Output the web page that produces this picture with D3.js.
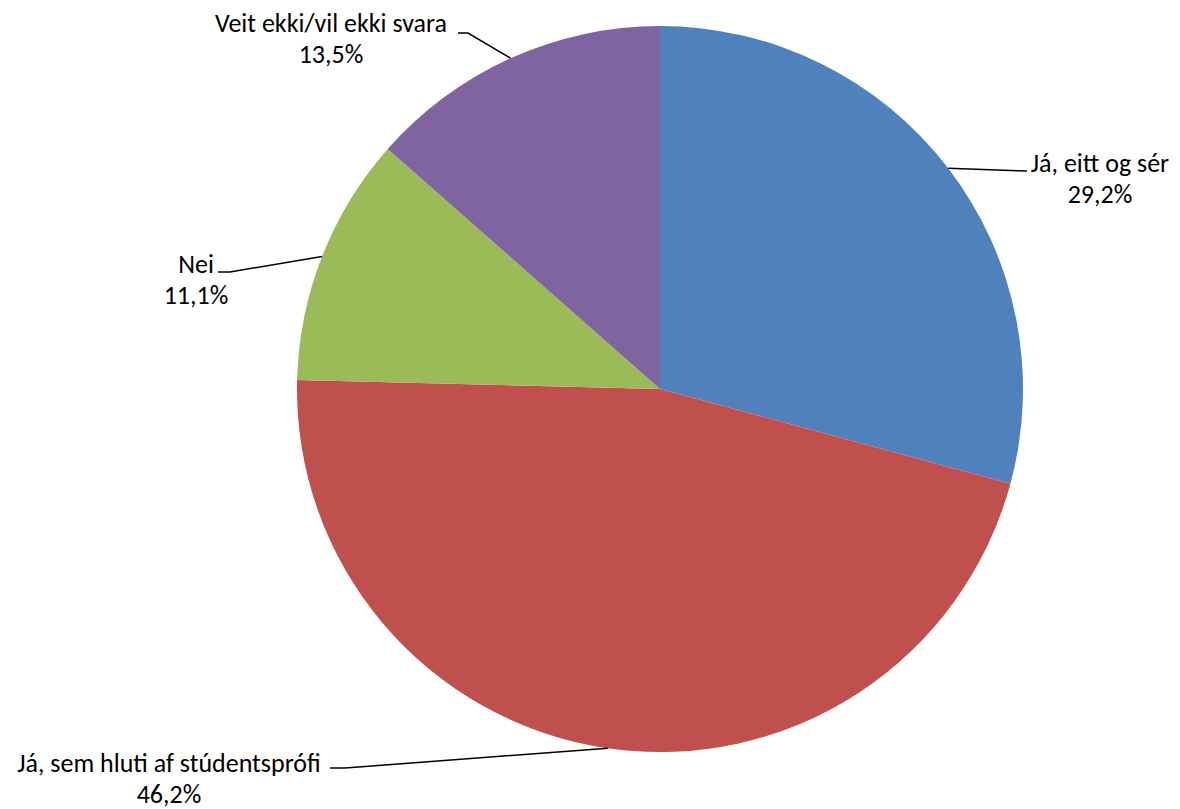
<!DOCTYPE html>
<html>
<head>
<meta charset="utf-8">
<script src="https://cdnjs.cloudflare.com/ajax/libs/d3/7.8.5/d3.min.js"></script>
<style>
  html, body { margin: 0; padding: 0; background: #fff; }
  svg text { font-family: Carlito, Calibri, "Open Sans", Lato, sans-serif; fill: #000; }
</style>
</head>
<body>
<svg id="chart" width="1180" height="809"></svg>
<script>
'use strict';

// data
const categories = ['Já, eitt og sér', 'Já, sem hluti af stúdentsprófi', 'Nei', 'Veit ekki/vil ekki svara'];
const values = [29.2, 46.2, 11.1, 13.5];
const colors = ['#4F81BD', '#C0504D', '#9BBB59', '#8064A2'];

// label placement: text centre, first baseline, leader elbow/end
const labelLayout = [
  {x: 1100, y: 172, ex: 1027, ey: 171, hx: 1027},
  {x: 169,  y: 772, ex: 345,  ey: 768, hx: 330},
  {x: 196,  y: 273, ex: 230,  ey: 272, hx: 218},
  {x: 331,  y: 32,  ex: 468,  ey: 33,  hx: 458}
];

const cx = 660, cy = 389, radius = 363;

const svg = d3.select('#chart');
const g = svg.append('g').attr('transform', 'translate(' + cx + ',' + cy + ')');

const pie = d3.pie().sort(null).value(function(d) { return d; });
const arcs = pie(values);
const arc = d3.arc().innerRadius(0).outerRadius(radius);

g.selectAll('path.slice')
  .data(arcs)
  .enter().append('path')
    .attr('class', 'slice')
    .attr('d', arc)
    .attr('fill', function(d, i) { return colors[i]; });

function fmt(v) {
  return v.toFixed(1).replace('.', ',') + '%';
}

arcs.forEach(function(d, i) {
  const mid = (d.startAngle + d.endAngle) / 2;
  const px = cx + radius * Math.sin(mid);
  const py = cy - radius * Math.cos(mid);
  const L = labelLayout[i];

  svg.append('polyline')
    .attr('points', [[px, py], [L.ex, L.ey], [L.hx, L.ey]].map(function(p) { return p.join(','); }).join(' '))
    .attr('fill', 'none')
    .attr('stroke', '#000')
    .attr('stroke-width', 1.5);

  const t = svg.append('text')
    .attr('text-anchor', 'middle')
    .style('font-size', '26px');
  t.append('tspan').attr('x', L.x).attr('y', L.y).text(categories[i]);
  t.append('tspan').attr('x', L.x).attr('y', L.y + 31).text(fmt(values[i]));
});
</script>
</body>
</html>
